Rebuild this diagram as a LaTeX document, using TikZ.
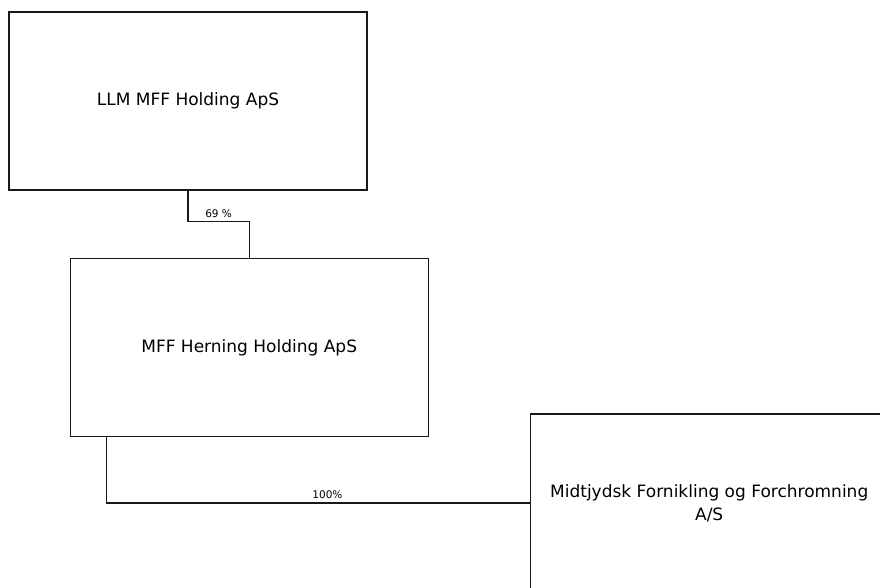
\documentclass[tikz,border=0pt]{standalone}
\usepackage{fontspec}
\setmainfont{DejaVu Sans}
\usetikzlibrary{positioning}

\begin{document}
\begin{tikzpicture}[x=1pt,y=-1pt,
  company/.style={draw=black!90,line width=1.2pt,minimum width=358pt,minimum height=178pt,align=center,inner sep=0pt,font=\fontsize{17}{23}\selectfont},
  link/.style={draw=black!90,line width=1.2pt},
  share/.style={above,inner sep=2pt,font=\fontsize{10.5}{12}\selectfont}]
\useasboundingbox (0,0) rectangle (880,588);
\clip (0,0) rectangle (880,588);
% companies
\node[company] (llm) at (188,101) {LLM MFF Holding ApS};
\node[company] (herning) at (249.2,347.7) {MFF Herning Holding ApS};
\node[company] (mff) at (709.2,503) {Midtjydsk Fornikling og Forchromning\\A/S};
% ownership
\draw[link] (llm.south) -- ++(0,31) -| node[share,pos=0.25,yshift=1pt]{69 \%} (herning.north);
\draw[link] ([xshift=-142.5pt]herning.south) |- node[share,pos=0.761,yshift=2pt]{100\%} (mff.west);
\end{tikzpicture}
\end{document}
